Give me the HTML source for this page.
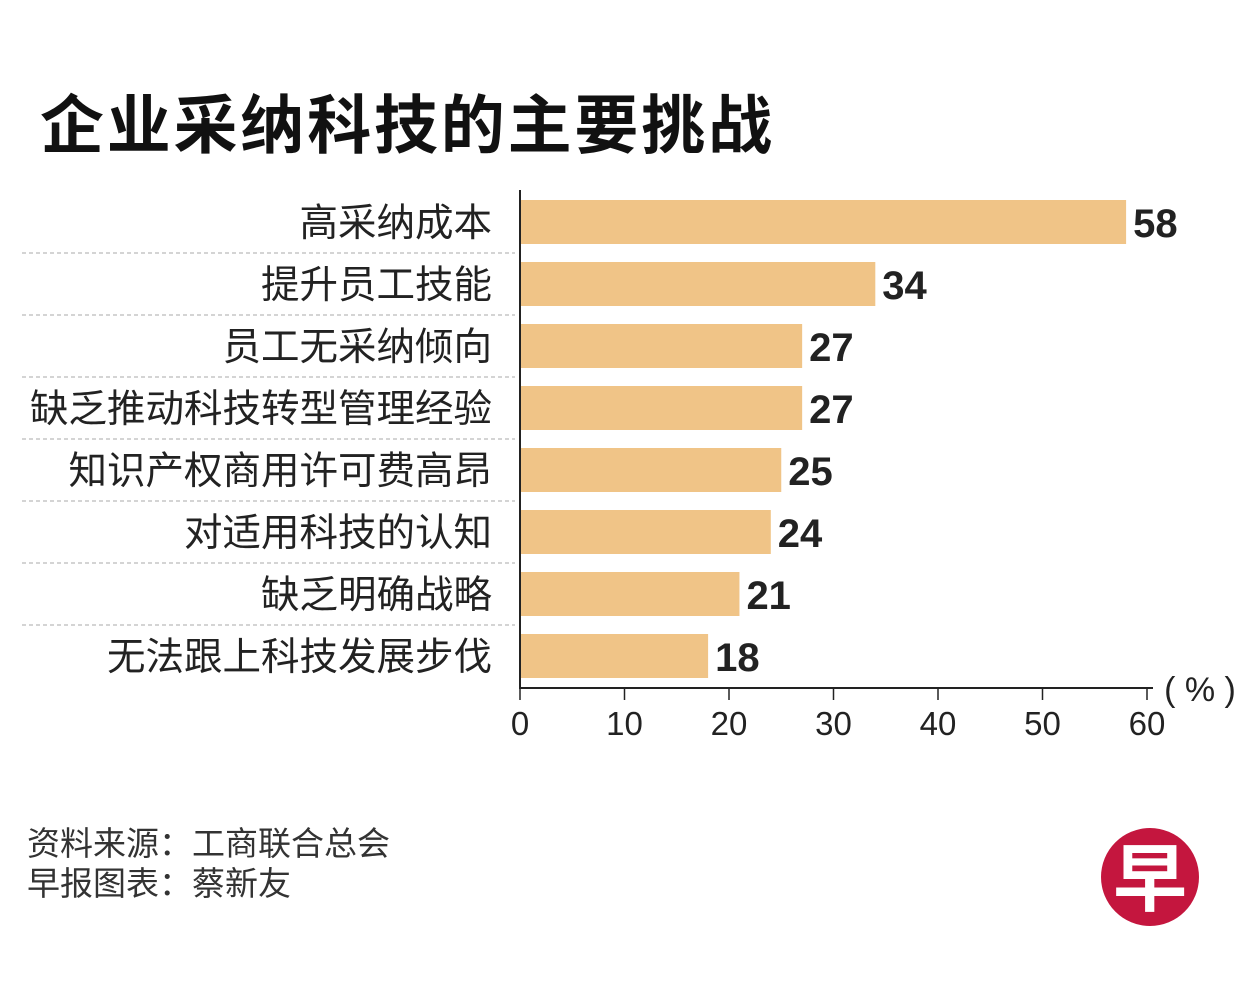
<!DOCTYPE html>
<html><head><meta charset="utf-8"><style>
body{margin:0;background:#fff;}
svg text{font-family:"Liberation Sans","Noto Sans CJK SC",sans-serif;}
</style></head><body>
<svg width="1251" height="997" viewBox="0 0 1251 997">
<text x="40" y="148" font-size="64" font-weight="bold" fill="#111" textLength="732" lengthAdjust="spacing">企业采纳科技的主要挑战</text>
<g id="bars"></g>
<line x1="520" y1="190" x2="520" y2="688" stroke="#222" stroke-width="2"/>
<line x1="519" y1="688" x2="1153" y2="688" stroke="#222" stroke-width="2"/>
<g id="ticks"></g>
<text x="1200" y="701" font-size="34" text-anchor="middle" fill="#222">( % )</text>
<text x="27" y="855" font-size="33" fill="#333">资料来源：工商联合总会</text>
<text x="27" y="895" font-size="33" fill="#333">早报图表：蔡新友</text>
<g>
<circle cx="1150" cy="877" r="49" fill="#c4163e"/>
<text x="1150" y="905" font-size="74" font-weight="bold" fill="#fff" text-anchor="middle">早</text>
</g>
</svg>
<script>
const categories=["高采纳成本","提升员工技能","员工无采纳倾向","缺乏推动科技转型管理经验","知识产权商用许可费高昂","对适用科技的认知","缺乏明确战略","无法跟上科技发展步伐"];
const values=[58,34,27,27,25,24,21,18];
const tickLabels=[0,10,20,30,40,50,60];
const NS="http://www.w3.org/2000/svg";
const x=v=>520+v*10.45;
const yTop=i=>200+i*62;
function mk(t,a,p){const e=document.createElementNS(NS,t);for(const k in a)e.setAttribute(k,a[k]);p.appendChild(e);return e;}
const bg=document.getElementById('bars');
categories.forEach((c,i)=>{
 if(i>0){const l=mk('line',{x1:22,x2:515,y1:yTop(i)-9,y2:yTop(i)-9,stroke:'#aaa','stroke-width':1,'stroke-dasharray':'4,3'},bg);
 
 }
 const r=mk('rect',{x:x(0),y:yTop(i),width:x(values[i])-x(0),height:44,fill:'#f0c487'},bg);
 
 
 const t=mk('text',{x:492,y:yTop(i)+36,'font-size':38.5,'text-anchor':'end',fill:'#222'},bg);t.textContent=c;
 
 
 const v=mk('text',{x:x(values[i])+7,y:yTop(i)+37,'font-size':40,'font-weight':'bold',fill:'#222'},bg);v.textContent=values[i];
 
 
});
const tg=document.getElementById('ticks');
tickLabels.forEach(v=>{
 const l=mk('line',{x1:x(v),x2:x(v),y1:688,y2:700,stroke:'#222','stroke-width':1.5},tg);
 
 
 const t=mk('text',{x:x(v),y:735,'font-size':33,'text-anchor':'middle',fill:'#222'},tg);t.textContent=v;
 
 
});
</script>
</body></html>
